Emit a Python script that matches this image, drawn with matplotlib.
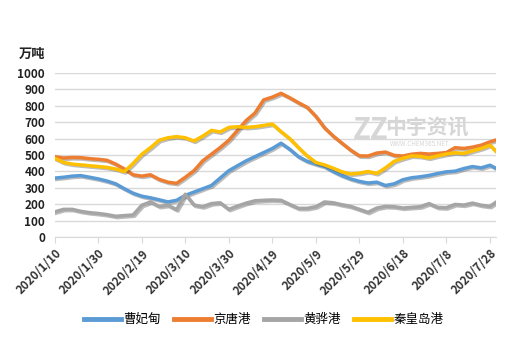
import pandas as pd
import matplotlib
matplotlib.use('Agg')
import matplotlib.pyplot as plt
import matplotlib.patheffects as pe

plt.rcParams['font.family'] = ['Noto Sans CJK SC', 'DejaVu Sans']

# sampling dates (every 4 days, plus the last day)
dates = list(pd.date_range('2020-01-10', '2020-07-28', freq='4D')) + [pd.Timestamp('2020-07-31')]

caofeidian = [360, 365, 372, 375, 365, 355, 342, 325, 295, 268,
              250, 240, 228, 215, 225, 255, 275, 295, 315, 360,
              405, 435, 465, 490, 515, 540, 572, 535, 490, 462,
              445, 430, 400, 375, 355, 340, 330, 335, 315, 325,
              350, 362, 368, 376, 388, 398, 402, 418, 430, 422,
              438, 418]
jingtang = [490, 482, 485, 484, 478, 474, 468, 445, 415, 380,
            372, 380, 352, 335, 328, 365, 405, 465, 505, 545,
            590, 650, 710, 755, 835, 852, 875, 848, 818, 790,
            735, 665, 615, 572, 530, 495, 494, 512, 518, 498,
            494, 505, 510, 506, 510, 515, 545, 540, 548, 560,
            580, 592]
huanghua = [155, 170, 170, 158, 150, 145, 138, 128, 132, 136,
            195, 215, 188, 195, 168, 262, 196, 186, 205, 210,
            170, 190, 208, 222, 225, 227, 225, 200, 176, 176,
            186, 215, 210, 198, 188, 170, 152, 178, 188, 186,
            178, 182, 186, 205, 182, 180, 200, 196, 208, 195,
            188, 215]
qinhuangdao = [480, 455, 445, 440, 435, 430, 425, 415, 399, 449,
               505, 545, 590, 605, 612, 605, 585, 615, 650, 640,
               668, 672, 668, 672, 680, 688, 642, 600, 545, 495,
               455, 440, 420, 398, 385, 390, 400, 388, 422, 462,
               480, 495, 492, 482, 495, 506, 514, 510, 525, 540,
               560, 520]

series = [('曹妃甸', caofeidian, '#5B9BD5'),
          ('京唐港', jingtang, '#ED7D31'),
          ('黄骅港', huanghua, '#A5A5A5'),
          ('秦皇岛港', qinhuangdao, '#FFC000')]

fig = plt.figure(figsize=(5.27, 3.40), dpi=100)
ax = fig.add_axes([0.104, 0.302, 0.838, 0.484])

shadow = [pe.SimpleLineShadow(offset=(1, -1), shadow_color='#404040', alpha=0.35),
          pe.Normal()]
for name, vals, color in series:
    ax.plot(dates, vals, color=color, lw=2.5, label=name,
            path_effects=shadow, solid_joinstyle='round', zorder=3)

# watermark
ax.text(0.715, 0.655, 'ZZ', transform=ax.transAxes, fontsize=21, fontweight='bold',
        style='italic', color='#d6d6d6', ha='center', va='center', zorder=1)
ax.text(0.842, 0.665, '中宇资讯', transform=ax.transAxes, fontsize=15, fontweight='bold',
        color='#d6d6d6', ha='center', va='center', zorder=1)
ax.text(0.826, 0.565, 'WWW.CHEM365.NET', transform=ax.transAxes, fontsize=4.5,
        color='#d6d6d6', ha='center', va='center', zorder=1)

ax.set_ylim(0, 1000)
ax.set_yticks(range(0, 1001, 100))
ax.set_xlim(pd.Timestamp('2020-01-10'), pd.Timestamp('2020-07-31'))
ticks = pd.date_range('2020-01-10', '2020-07-31', freq='20D')
ax.set_xticks(ticks)
ax.set_xticklabels([f'{d.year}/{d.month}/{d.day}' for d in ticks],
                   rotation=45, ha='right', rotation_mode='anchor',
                   fontsize=8.5, fontweight='bold', color='#333333')
for lbl in ax.get_yticklabels():
    lbl.set_fontsize(8.5)
    lbl.set_fontweight('bold')
    lbl.set_color('#222222')

ax.grid(axis='y', color='#D9D9D9', lw=1)
ax.set_axisbelow(True)
for s in ['top', 'right', 'left']:
    ax.spines[s].set_visible(False)
ax.spines['bottom'].set_color('#D9D9D9')
ax.tick_params(axis='y', length=0, pad=7)
ax.tick_params(axis='x', length=4, color='#D9D9D9', pad=3)

fig.text(0.035, 0.83, '万吨', fontsize=9.5, fontweight='bold', color='#222222')

leg = fig.legend(loc='center', bbox_to_anchor=(0.5, 0.06), ncol=4, frameon=False,
                 fontsize=9, handlelength=3, columnspacing=1.0, handletextpad=0.2)
for line in leg.get_lines():
    line.set_linewidth(3.5)
    line.set_path_effects([])

fig.savefig('out.png', dpi=100)
